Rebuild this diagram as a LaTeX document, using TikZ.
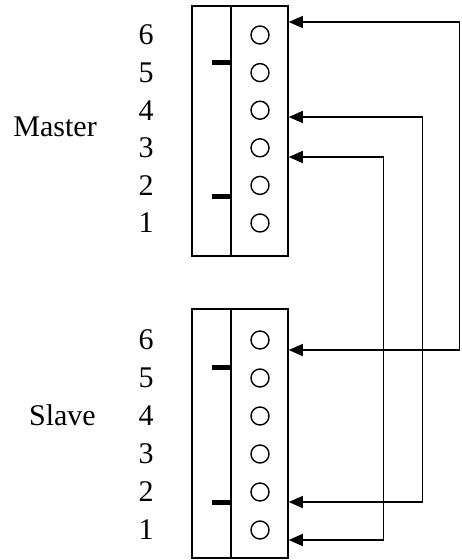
\documentclass[tikz,border=0pt]{standalone}
\usepackage{fontspec}
\setmainfont{Liberation Serif}
\usetikzlibrary{arrows.meta}
\tikzset{
  box/.style={draw, line width=1.5pt, minimum width=96pt, inner sep=0pt},
  pin/.style={draw, circle, line width=1.4pt, minimum size=18pt, inner sep=0pt},
  num/.style={font=\fontsize{30}{36}\selectfont, inner sep=0pt},
  tick/.style={line width=5pt},
  wire/.style={line width=1.4pt, {Triangle[length=14pt,width=12pt]}-{Triangle[length=14pt,width=12pt]}},
}
\begin{document}
\begin{tikzpicture}[x=1pt,y=-1pt]
\useasboundingbox (0,0) rectangle (461,560);
% connectors
\node (master) [box, minimum height=250pt] at (240,131) {};
\node (slave) [box, minimum height=249pt] at (240,433.5) {};
\draw [line width=1.5pt] (231,6) -- (231,256);
\draw [line width=1.5pt] (231,309) -- (231,558);
\foreach \i in {1,...,6} {
  \node (m\i) [pin] at (260,{35+(6-\i)*37.6}) {};
  \node (ml\i) [num] at (146,{35+(6-\i)*37.6}) {\i};
  \node (s\i) [pin] at (260,{340+(6-\i)*38}) {};
  \node (sl\i) [num] at (146,{340+(6-\i)*38}) {\i};
}
\draw [tick] (212,62) -- (231,62);
\draw [tick] (212,196) -- (231,196);
\draw [tick] (212,367) -- (231,367);
\draw [tick] (212,502) -- (231,502);
\node (mname) [num, anchor=east] at (97,127) {Master};
\node (sname) [num, anchor=east] at (96,415) {Slave};
% wires
\coordinate (mA) at (master.east |- 0,22);
\coordinate (mB) at (master.east |- 0,117);
\coordinate (mC) at (master.east |- 0,157);
\coordinate (sA) at (slave.east |- 0,350);
\coordinate (sB) at (slave.east |- 0,502);
\coordinate (sC) at (slave.east |- 0,540);
\draw [wire] (mA) -- ++(171,0) |- (sA);
\draw [wire] (mB) -- ++(134,0) |- (sB);
\draw [wire] (mC) -- ++(95,0) |- (sC);
\end{tikzpicture}
\end{document}
